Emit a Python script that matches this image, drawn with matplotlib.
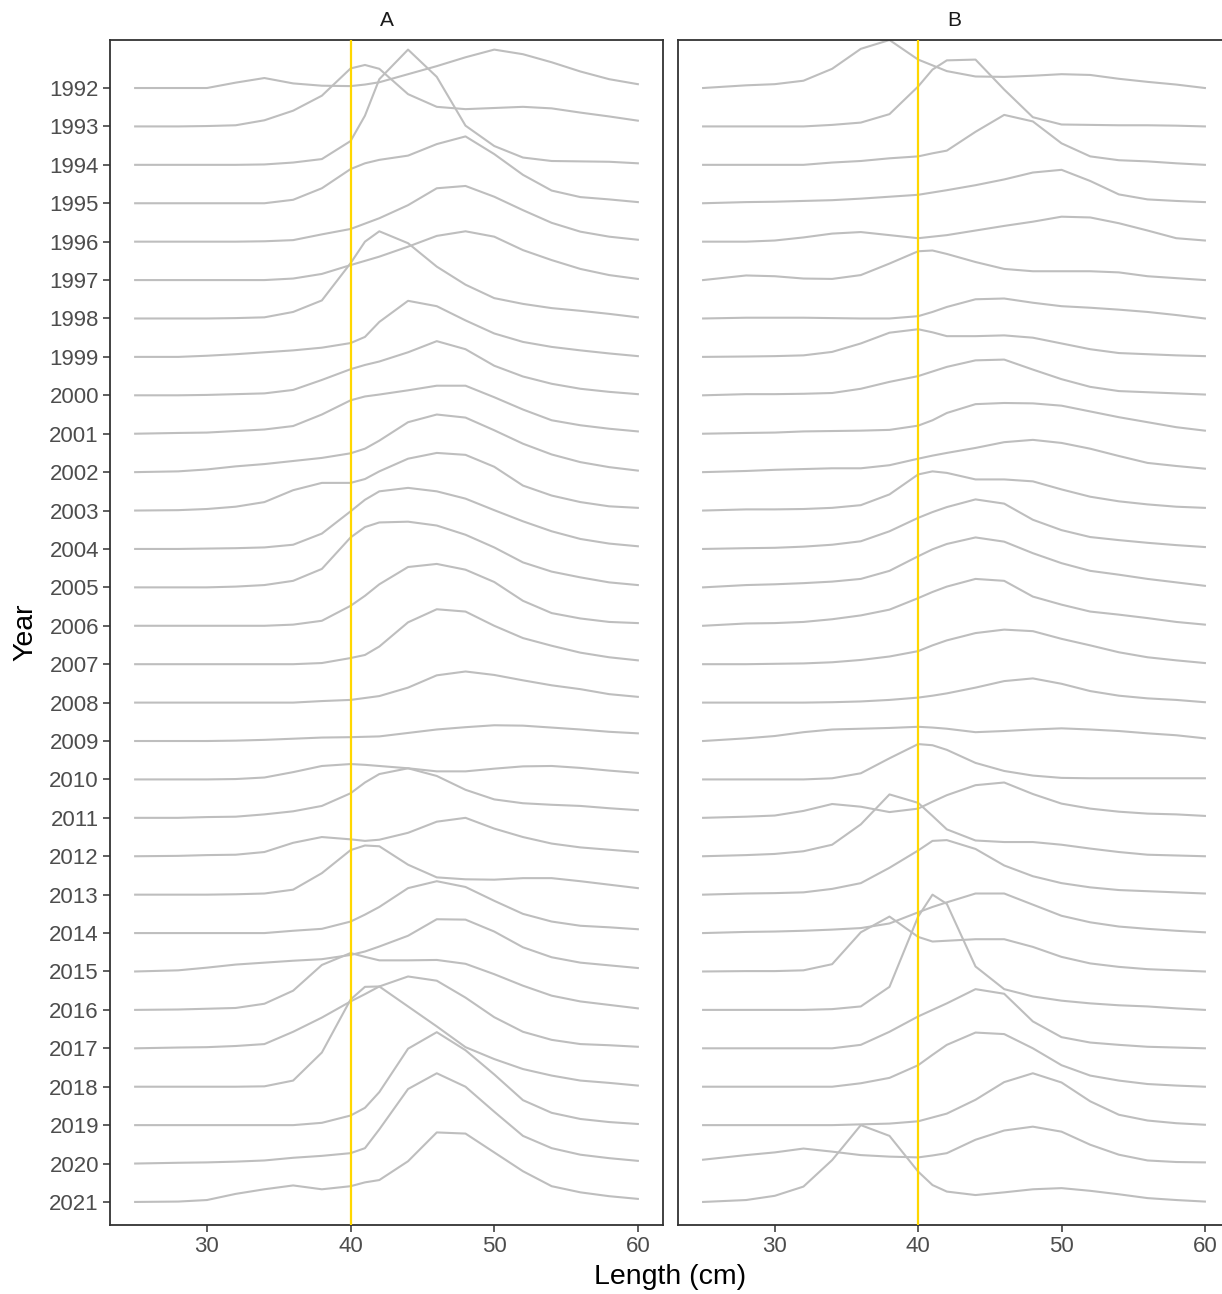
import matplotlib
matplotlib.use("Agg")
import matplotlib.pyplot as plt

plt.rcParams['font.family'] = ['Liberation Sans', 'DejaVu Sans']

years = list(range(1992, 2022))
length_cm = [25, 28, 30, 32, 34, 36, 38, 40, 41, 42, 44, 46, 48, 50, 52, 54, 56, 58, 60]
ref_length = 40
panels = ["A", "B"]

# ridge heights above each year's baseline (1 = spacing between years)
dens_A = [
    [0, 0, 0, 0.14, 0.26, 0.12, 0.06, 0.05, 0.09, 0.15, 0.36, 0.57, 0.80, 1.00, 0.88, 0.67, 0.43, 0.23, 0.10],  # 1992
    [0, 0, 0.01, 0.03, 0.16, 0.41, 0.80, 1.51, 1.60, 1.50, 0.84, 0.51, 0.45, 0.48, 0.51, 0.47, 0.36, 0.26, 0.15],
    [0, 0, 0, 0, 0.01, 0.06, 0.15, 0.62, 1.28, 2.23, 3.00, 2.29, 1.02, 0.49, 0.19, 0.10, 0.09, 0.08, 0.04],
    [0, 0, 0, 0, 0, 0.09, 0.39, 0.89, 1.04, 1.13, 1.24, 1.54, 1.74, 1.28, 0.74, 0.33, 0.16, 0.10, 0.03],
    [0, 0, 0, 0, 0.01, 0.04, 0.19, 0.33, 0.47, 0.61, 0.95, 1.39, 1.45, 1.17, 0.82, 0.49, 0.26, 0.13, 0.05],
    [0, 0, 0, 0, 0, 0.04, 0.16, 0.39, 0.50, 0.61, 0.87, 1.15, 1.27, 1.13, 0.78, 0.52, 0.29, 0.13, 0.03],  # 1997
    [0, 0, 0, 0.01, 0.03, 0.17, 0.47, 1.44, 2.00, 2.27, 1.96, 1.35, 0.88, 0.53, 0.38, 0.27, 0.20, 0.12, 0.03],
    [0, 0, 0.03, 0.07, 0.12, 0.17, 0.24, 0.36, 0.52, 0.91, 1.46, 1.32, 0.95, 0.61, 0.39, 0.26, 0.17, 0.09, 0.02],
    [0, 0, 0.01, 0.03, 0.05, 0.14, 0.40, 0.68, 0.79, 0.88, 1.12, 1.41, 1.20, 0.77, 0.49, 0.30, 0.17, 0.09, 0.03],
    [0, 0.02, 0.03, 0.07, 0.11, 0.20, 0.50, 0.87, 0.97, 1.02, 1.13, 1.25, 1.25, 0.95, 0.63, 0.35, 0.22, 0.13, 0.06],
    [0, 0.02, 0.07, 0.15, 0.21, 0.29, 0.37, 0.49, 0.61, 0.82, 1.30, 1.50, 1.42, 1.09, 0.74, 0.46, 0.26, 0.13, 0.04],  # 2002
    [0, 0.01, 0.04, 0.10, 0.22, 0.53, 0.72, 0.72, 0.82, 1.02, 1.35, 1.50, 1.45, 1.14, 0.65, 0.39, 0.22, 0.11, 0.07],
    [0, 0, 0.01, 0.02, 0.04, 0.11, 0.40, 0.98, 1.28, 1.50, 1.59, 1.50, 1.31, 1.01, 0.72, 0.46, 0.26, 0.14, 0.07],
    [0, 0, 0, 0.02, 0.06, 0.17, 0.48, 1.30, 1.57, 1.69, 1.71, 1.61, 1.37, 1.04, 0.65, 0.41, 0.26, 0.13, 0.06],
    [0, 0, 0, 0, 0, 0.03, 0.13, 0.52, 0.78, 1.08, 1.53, 1.61, 1.46, 1.14, 0.65, 0.33, 0.19, 0.10, 0.07],
    [0, 0, 0, 0, 0, 0, 0.03, 0.16, 0.24, 0.46, 1.09, 1.43, 1.37, 1.00, 0.68, 0.48, 0.30, 0.18, 0.10],  # 2007
    [0, 0, 0, 0, 0, 0, 0.04, 0.07, 0.12, 0.17, 0.39, 0.71, 0.81, 0.72, 0.58, 0.45, 0.35, 0.22, 0.15],
    [0, 0, 0, 0.01, 0.03, 0.06, 0.09, 0.10, 0.11, 0.12, 0.21, 0.30, 0.36, 0.41, 0.40, 0.35, 0.30, 0.24, 0.20],
    [0, 0, 0, 0.01, 0.05, 0.19, 0.35, 0.40, 0.38, 0.35, 0.29, 0.21, 0.21, 0.28, 0.34, 0.35, 0.30, 0.23, 0.17],
    [0, 0, 0.02, 0.03, 0.09, 0.17, 0.31, 0.64, 0.92, 1.14, 1.29, 1.09, 0.73, 0.48, 0.38, 0.34, 0.31, 0.25, 0.20],
    [0, 0.01, 0.03, 0.04, 0.11, 0.35, 0.50, 0.44, 0.40, 0.43, 0.61, 0.90, 1.00, 0.72, 0.50, 0.33, 0.23, 0.17, 0.11],  # 2012
    [0, 0, 0, 0.01, 0.03, 0.13, 0.56, 1.16, 1.28, 1.26, 0.78, 0.45, 0.40, 0.39, 0.43, 0.43, 0.35, 0.26, 0.17],
    [0, 0, 0, 0, 0, 0.06, 0.11, 0.30, 0.48, 0.68, 1.17, 1.35, 1.20, 0.84, 0.50, 0.30, 0.19, 0.15, 0.10],
    [0, 0.03, 0.10, 0.18, 0.23, 0.28, 0.32, 0.43, 0.52, 0.65, 0.93, 1.36, 1.35, 1.04, 0.63, 0.37, 0.23, 0.16, 0.09],
    [0, 0.01, 0.03, 0.05, 0.16, 0.50, 1.17, 1.48, 1.38, 1.29, 1.29, 1.30, 1.20, 0.93, 0.63, 0.37, 0.22, 0.13, 0.04],
    [0, 0.02, 0.03, 0.06, 0.11, 0.43, 0.80, 1.22, 1.41, 1.61, 1.87, 1.76, 1.32, 0.81, 0.43, 0.22, 0.11, 0.08, 0.04],  # 2017
    [0, 0, 0, 0, 0.01, 0.16, 0.89, 2.27, 2.60, 2.61, 2.09, 1.57, 1.03, 0.72, 0.46, 0.29, 0.16, 0.10, 0.03],
    [0, 0, 0, 0, 0, 0, 0.06, 0.25, 0.45, 0.86, 1.99, 2.42, 1.95, 1.32, 0.65, 0.32, 0.16, 0.08, 0.03],
    [0, 0.02, 0.03, 0.05, 0.08, 0.15, 0.20, 0.27, 0.40, 0.89, 1.94, 2.35, 2.00, 1.35, 0.72, 0.40, 0.23, 0.14, 0.07],
    [0, 0.01, 0.05, 0.21, 0.33, 0.43, 0.33, 0.41, 0.51, 0.57, 1.06, 1.81, 1.78, 1.29, 0.80, 0.41, 0.25, 0.15, 0.08],  # 2021
]

dens_B = [
    [0, 0.07, 0.10, 0.19, 0.50, 1.02, 1.25, 0.74, 0.59, 0.44, 0.30, 0.29, 0.32, 0.36, 0.34, 0.24, 0.16, 0.09, 0],  # 1992
    [0, 0, 0, 0, 0.04, 0.10, 0.32, 1.04, 1.48, 1.72, 1.74, 0.96, 0.24, 0.05, 0.04, 0.03, 0.03, 0.02, 0],
    [0, 0, 0, 0, 0.06, 0.10, 0.17, 0.22, 0.30, 0.37, 0.86, 1.30, 1.13, 0.56, 0.22, 0.12, 0.09, 0.04, 0],
    [0, 0.03, 0.04, 0.06, 0.08, 0.12, 0.17, 0.22, 0.28, 0.34, 0.47, 0.62, 0.80, 0.87, 0.58, 0.23, 0.10, 0.06, 0.03],
    [0, 0, 0.03, 0.11, 0.21, 0.25, 0.17, 0.09, 0.13, 0.17, 0.29, 0.41, 0.52, 0.65, 0.63, 0.48, 0.29, 0.09, 0.03],
    [0, 0.12, 0.10, 0.04, 0.03, 0.13, 0.43, 0.75, 0.77, 0.68, 0.47, 0.29, 0.23, 0.23, 0.23, 0.20, 0.10, 0.05, 0],  # 1997
    [0, 0.02, 0.02, 0.02, 0.01, 0, 0, 0.06, 0.17, 0.30, 0.50, 0.52, 0.41, 0.32, 0.28, 0.23, 0.17, 0.09, 0],
    [0, 0.01, 0.02, 0.04, 0.13, 0.35, 0.63, 0.72, 0.64, 0.54, 0.54, 0.56, 0.50, 0.35, 0.20, 0.10, 0.07, 0.04, 0.02],
    [0, 0.03, 0.03, 0.04, 0.06, 0.17, 0.35, 0.50, 0.62, 0.74, 0.91, 0.93, 0.67, 0.42, 0.22, 0.11, 0.08, 0.05, 0.02],
    [0, 0.02, 0.03, 0.06, 0.07, 0.08, 0.10, 0.21, 0.35, 0.54, 0.77, 0.80, 0.79, 0.73, 0.58, 0.43, 0.30, 0.17, 0.08],
    [0, 0.03, 0.06, 0.08, 0.10, 0.10, 0.18, 0.35, 0.43, 0.50, 0.63, 0.78, 0.84, 0.76, 0.61, 0.42, 0.24, 0.16, 0.09],  # 2002
    [0, 0.03, 0.03, 0.04, 0.07, 0.14, 0.42, 0.94, 1.02, 0.98, 0.81, 0.81, 0.76, 0.55, 0.36, 0.24, 0.16, 0.10, 0.07],
    [0, 0.02, 0.03, 0.06, 0.11, 0.20, 0.46, 0.81, 0.96, 1.09, 1.29, 1.18, 0.76, 0.49, 0.31, 0.23, 0.16, 0.10, 0.05],
    [0, 0.06, 0.08, 0.11, 0.15, 0.22, 0.43, 0.81, 0.99, 1.13, 1.30, 1.19, 0.89, 0.63, 0.43, 0.33, 0.22, 0.13, 0.04],
    [0, 0.06, 0.07, 0.10, 0.17, 0.27, 0.42, 0.72, 0.88, 1.02, 1.22, 1.17, 0.76, 0.55, 0.37, 0.29, 0.20, 0.10, 0.03],
    [0, 0, 0.01, 0.02, 0.05, 0.11, 0.20, 0.34, 0.49, 0.62, 0.81, 0.90, 0.86, 0.66, 0.49, 0.31, 0.18, 0.10, 0.03],  # 2007
    [0, 0, 0, 0, 0.01, 0.03, 0.07, 0.13, 0.18, 0.24, 0.39, 0.56, 0.63, 0.49, 0.30, 0.18, 0.11, 0.07, 0.01],
    [0, 0.07, 0.13, 0.23, 0.30, 0.32, 0.34, 0.37, 0.35, 0.32, 0.23, 0.26, 0.30, 0.33, 0.30, 0.26, 0.20, 0.15, 0.07],
    [0, 0, 0, 0, 0.03, 0.16, 0.55, 0.92, 0.89, 0.77, 0.43, 0.22, 0.10, 0.04, 0.03, 0.03, 0.03, 0.03, 0.03],
    [0, 0.03, 0.06, 0.18, 0.36, 0.29, 0.15, 0.24, 0.42, 0.59, 0.85, 0.92, 0.62, 0.37, 0.24, 0.16, 0.11, 0.09, 0.05],
    [0, 0.03, 0.06, 0.13, 0.30, 0.83, 1.61, 1.39, 1.05, 0.70, 0.41, 0.37, 0.37, 0.30, 0.20, 0.11, 0.04, 0.02, 0],  # 2012
    [0, 0.03, 0.04, 0.06, 0.15, 0.30, 0.70, 1.15, 1.40, 1.42, 1.19, 0.76, 0.48, 0.30, 0.19, 0.12, 0.09, 0.06, 0.03],
    [0, 0.03, 0.04, 0.06, 0.09, 0.13, 0.25, 0.54, 0.68, 0.80, 1.03, 1.03, 0.74, 0.45, 0.28, 0.17, 0.11, 0.06, 0.02],
    [0, 0.01, 0.01, 0.03, 0.19, 1.02, 1.43, 0.90, 0.78, 0.80, 0.84, 0.84, 0.64, 0.38, 0.21, 0.12, 0.06, 0.03, 0],
    [0, 0, 0, 0, 0.02, 0.09, 0.60, 2.43, 3.00, 2.76, 1.13, 0.54, 0.35, 0.24, 0.17, 0.12, 0.09, 0.04, 0],
    [0, 0, 0, 0, 0, 0.09, 0.43, 0.83, 1.00, 1.17, 1.54, 1.42, 0.70, 0.29, 0.15, 0.09, 0.04, 0.02, 0],  # 2017
    [0, 0, 0, 0, 0, 0.09, 0.23, 0.56, 0.83, 1.09, 1.41, 1.37, 1.00, 0.56, 0.29, 0.16, 0.07, 0.03, 0],
    [0, 0, 0, 0, 0, 0.02, 0.04, 0.10, 0.20, 0.30, 0.66, 1.12, 1.35, 1.11, 0.62, 0.27, 0.12, 0.05, 0.01],
    [0.10, 0.22, 0.29, 0.39, 0.31, 0.22, 0.18, 0.16, 0.21, 0.27, 0.62, 0.86, 0.96, 0.83, 0.49, 0.23, 0.08, 0.04, 0.03],
    [0, 0.05, 0.16, 0.40, 1.09, 2.00, 1.72, 0.79, 0.44, 0.27, 0.18, 0.25, 0.33, 0.36, 0.29, 0.20, 0.10, 0.05, 0.01],  # 2021
]

W, H = 1222, 1294
fig = plt.figure(figsize=(W / 100, H / 100), dpi=100)

top, bottom = 40, 1225
axA = fig.add_axes([110 / W, 1 - bottom / H, (663 - 110) / W, (bottom - top) / H])
axB = fig.add_axes([678 / W, 1 - bottom / H, (1230 - 678) / W, (bottom - top) / H])

frame_col = "#333333"
for ax, name, dens in zip([axA, axB], panels, [dens_A, dens_B]):
    for i, year in enumerate(years):
        base = years[-1] - year  # 1992 on top
        ax.plot(length_cm, [base + h for h in dens[i]], color="#bebebe", lw=1.5,
                solid_joinstyle="round", zorder=2)
    ax.axvline(ref_length, color="#ffd700", lw=1.6, zorder=3)

    ax.set_xlim(23.25, 61.75)
    ax.set_ylim(-0.6, 30.25)
    ax.set_xticks([30, 40, 50, 60])
    ax.tick_params(axis="x", labelsize=16, labelcolor="#4d4d4d", color=frame_col, length=5, width=1.1, pad=3)
    for s in ax.spines.values():
        s.set_color(frame_col)
        s.set_linewidth(1.3)
    ax.set_title(name, fontsize=15, color="#1a1a1a", pad=10)

axA.set_yticks([years[-1] - y for y in years])
axA.set_yticklabels([str(y) for y in years])
axA.tick_params(axis="y", labelsize=16, labelcolor="#4d4d4d", color=frame_col, length=5, width=1.1, pad=3)
axB.set_yticks([])

fig.text(25 / W, 1 - 632 / H, "Year", rotation=90, ha="center", va="center", fontsize=20.5)
fig.text(670 / W, 1 - 1277 / H, "Length (cm)", ha="center", va="center", fontsize=20.5)

fig.savefig("out.png", dpi=100)
